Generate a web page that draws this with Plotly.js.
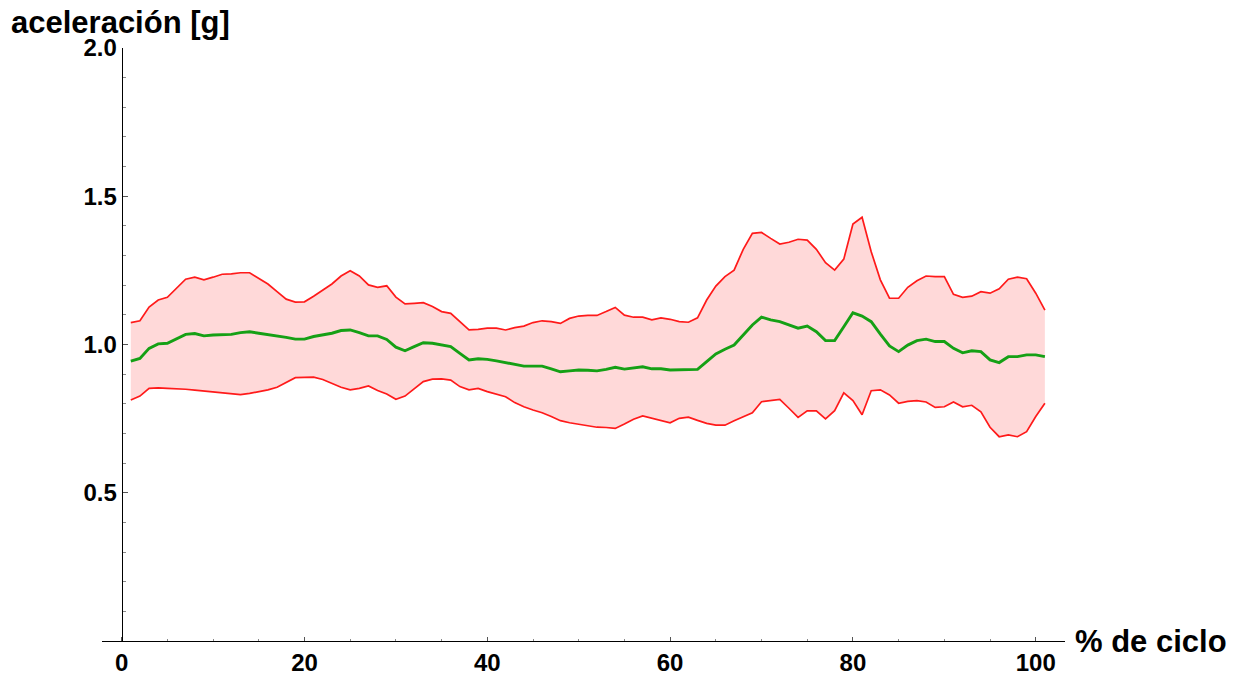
<!DOCTYPE html>
<html>
<head>
<meta charset="utf-8">
<script src="https://cdn.plot.ly/plotly-3.0.1.min.js"></script>
<style>html,body{margin:0;padding:0;background:#fff;}#chart{width:1239px;height:675px;}</style>
</head>
<body>
<div id="chart"></div>
<script>
// % de ciclo (1..101)
const ciclo = Array.from({length: 101}, (_, i) => i + 1);

const upperBand = [
1.074,1.080,1.126,1.150,1.159,1.190,1.220,1.227,1.218,1.227,
1.237,1.238,1.242,1.242,1.223,1.204,1.178,1.153,1.143,1.144,
1.163,1.184,1.204,1.231,1.249,1.231,1.201,1.193,1.198,1.160,
1.137,1.139,1.141,1.128,1.111,1.105,1.077,1.049,1.051,1.055,
1.055,1.049,1.057,1.062,1.074,1.080,1.077,1.071,1.088,1.096,
1.098,1.098,1.111,1.125,1.099,1.092,1.092,1.083,1.090,1.085,
1.077,1.075,1.090,1.150,1.197,1.229,1.251,1.321,1.375,1.378,
1.358,1.339,1.345,1.355,1.352,1.321,1.276,1.251,1.288,1.406,
1.429,1.313,1.218,1.156,1.156,1.193,1.215,1.231,1.229,1.229,
1.169,1.159,1.163,1.178,1.173,1.188,1.220,1.227,1.222,1.173,
1.116];

const meanLine = [
0.944,0.953,0.987,1.002,1.004,1.018,1.034,1.037,1.029,1.032,
1.034,1.034,1.040,1.043,1.038,1.034,1.030,1.024,1.018,1.018,
1.027,1.032,1.038,1.047,1.049,1.040,1.029,1.029,1.017,0.991,
0.979,0.993,1.006,1.004,0.998,0.993,0.970,0.948,0.952,0.950,
0.945,0.939,0.932,0.927,0.927,0.927,0.918,0.908,0.911,0.914,
0.913,0.911,0.916,0.923,0.917,0.921,0.925,0.918,0.918,0.914,
0.914,0.915,0.916,0.942,0.968,0.984,0.998,1.032,1.066,1.092,
1.083,1.077,1.066,1.055,1.062,1.043,1.013,1.013,1.060,1.107,
1.096,1.077,1.035,0.995,0.976,0.998,1.013,1.018,1.010,1.010,
0.987,0.972,0.979,0.976,0.948,0.939,0.959,0.959,0.965,0.965,
0.959];

const lowerBand = [
0.813,0.826,0.852,0.854,0.852,0.851,0.849,0.846,0.843,0.840,
0.837,0.832,0.831,0.835,0.840,0.847,0.856,0.873,0.888,0.889,
0.890,0.882,0.869,0.856,0.847,0.852,0.860,0.845,0.833,0.815,
0.826,0.852,0.875,0.883,0.884,0.880,0.858,0.847,0.852,0.841,
0.833,0.824,0.804,0.790,0.779,0.770,0.757,0.743,0.736,0.731,
0.726,0.721,0.720,0.717,0.732,0.748,0.759,0.751,0.743,0.736,
0.751,0.755,0.744,0.734,0.728,0.728,0.743,0.757,0.770,0.807,
0.811,0.815,0.785,0.754,0.776,0.776,0.749,0.777,0.837,0.811,
0.763,0.844,0.847,0.830,0.802,0.808,0.811,0.806,0.788,0.790,
0.806,0.790,0.795,0.773,0.721,0.689,0.695,0.689,0.706,0.757,
0.802];

const yTickVals = [0.5, 1.0, 1.5, 2.0];
const yTickText = ['0.5', '1.0', '1.5', '2.0'];
const xTickVals = [0, 20, 40, 60, 80, 100];
const yTitle = 'aceleración [g]';
const xTitle = '% de ciclo';

const red = '#ff1a1a';
const green = '#15a015';

const traces = [
  {x: ciclo, y: lowerBand, type: 'scatter', mode: 'lines',
   line: {color: red, width: 1.7}, hoverinfo: 'skip', showlegend: false},
  {x: ciclo, y: upperBand, type: 'scatter', mode: 'lines', fill: 'tonexty',
   fillcolor: 'rgba(255,0,0,0.15)',
   line: {color: red, width: 1.7}, hoverinfo: 'skip', showlegend: false},
  {x: ciclo, y: meanLine, type: 'scatter', mode: 'lines',
   line: {color: green, width: 2.9}, hoverinfo: 'skip', showlegend: false}
];

const tickFont = {family: 'Liberation Sans, Arial, sans-serif', size: 24, color: '#000', weight: 'bold'};
const titleFont = {family: 'Liberation Sans, Arial, sans-serif', size: 31, color: '#000', weight: 'bold'};

const layout = {
  width: 1239, height: 675,
  margin: {l: 102, r: 174, t: 48, b: 34, pad: 0},
  paper_bgcolor: '#fff', plot_bgcolor: '#fff',
  showlegend: false,
  xaxis: {
    range: [-2.15, 103.2], showgrid: false, zeroline: false,
    showline: true, linecolor: '#000', linewidth: 1.2,
    tickmode: 'array', tickvals: xTickVals,
    ticks: 'inside', ticklen: 4, tickcolor: '#555', tickwidth: 1,
    minor: {dtick: 5, tick0: 0, ticks: 'inside', ticklen: 2.5, tickcolor: '#888', showgrid: false},
    tickfont: tickFont, fixedrange: true
  },
  yaxis: {
    range: [0, 2], showgrid: false, zeroline: false,
    anchor: 'free', position: 2.15 / 105.35, side: 'left',
    showline: true, linecolor: '#000', linewidth: 1.2,
    tickmode: 'array', tickvals: yTickVals, ticktext: yTickText,
    ticks: 'inside', ticklen: 5, tickcolor: '#555', tickwidth: 1,
    minor: {dtick: 0.1, tick0: 0, ticks: 'inside', ticklen: 3, tickcolor: '#888', showgrid: false},
    tickfont: tickFont, fixedrange: true
  },
  annotations: [
    {text: yTitle, xref: 'paper', yref: 'paper', x: -0.0965, y: 1.043,
     xanchor: 'left', yanchor: 'middle', showarrow: false, font: titleFont},
    {text: xTitle, xref: 'paper', yref: 'paper', x: 1.0083, y: 0.0,
     xanchor: 'left', yanchor: 'middle', showarrow: false, font: titleFont}
  ]
};

Plotly.newPlot('chart', traces, layout, {displayModeBar: false, staticPlot: true});
</script>
</body>
</html>
